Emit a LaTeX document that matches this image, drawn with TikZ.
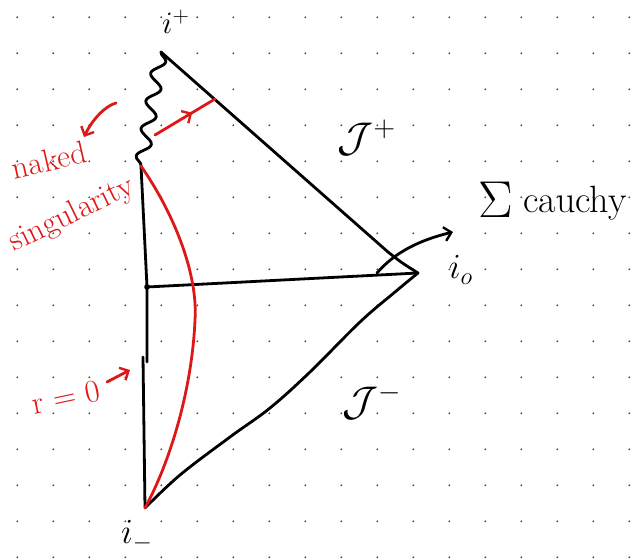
\documentclass[tikz,border=0pt]{standalone}
\usetikzlibrary{arrows.meta,decorations.pathmorphing,decorations.markings}
\definecolor{penred}{RGB}{222,24,24}
\begin{document}
\begin{tikzpicture}[x=1pt,y=-1pt, line cap=round, line join=round,
  ink/.style={line width=2.8pt, black},
  redink/.style={line width=2.8pt, penred},
  barb/.style={-{Straight Barb[length=7pt,width=14pt,line width=2.4pt]}},
  lbl/.style={inner sep=0pt, font=\fontsize{32}{32}\selectfont},
  mlbl/.style={inner sep=0pt, font=\fontsize{20}{20}\selectfont, scale=#1},
  redlbl/.style={lbl, text=penred}]
\fill[white] (0,0) rectangle (635,559);
\useasboundingbox (0,0) rectangle (635,559);
\foreach \i in {0,...,17} \foreach \j in {0,...,15} \fill[black!65] (17.3+36*\i, 17.3+36*\j) circle (1.1);

\coordinate (ip) at (161,52);
\coordinate (ns) at (141,166);
\coordinate (io) at (418,273);
\coordinate (im) at (145,508);
\coordinate (mid) at (147,287);
\coordinate (brk1) at (147,362);
\coordinate (brk2) at (143,357);

% singular boundary (wavy)
\draw[ink, decorate, decoration={snake, amplitude=6.5, segment length=28}] (ip) -- (ns);
% J+
\draw[ink] (ip) -- (388,252) .. controls (402,263) .. (io);
% J-
\draw[ink] plot[smooth, tension=0.6] coordinates {(im) (180,475) (230,437) (270,408) (310,372) (360,322) (395,292) (io)};
% r = 0 axis
\draw[ink] (ns) -- (mid) -- (brk1);
\draw[ink] (brk2) -- (im);
% Cauchy surface
\draw[ink] (mid) -- (io);
\fill (mid) circle (2.8);
\draw[ink, barb] (377,273) .. controls (395,252) and (420,240) .. (453,232);

% red curve
\draw[redink] (ns) .. controls (175,215) and (198,275) .. (195,320) .. controls (192,390) and (170,462) .. (im);
% red arrow to J+
\draw[redink, postaction=decorate, decoration={markings, mark=at position 0.62 with {\arrow{Straight Barb[length=7pt,width=14pt,line width=2.4pt]}}}] (155,135) -- (215,99);
% red pointer arrows
\draw[redink, barb] (116,103) .. controls (105,106) and (92,120) .. (84,137);
\draw[redink, barb] (107,382) -- (130,370);

% labels
\node[mlbl=1.5] (lip) at (176,22) {$i^{+}$};
\node[mlbl=2] (ljp) at (367,138) {$\mathcal{J}^{+}$};
\node[mlbl=2] (ljm) at (372,402) {$\mathcal{J}^{-}$};
\node[mlbl=1.7] (lio) at (461,270) {$i_{o}$};
\node[mlbl=1.7] (lim) at (137,536) {$i_{-}$};
\node[mlbl=2.5] (lsig) at (496,200) {$\Sigma$};
\node[lbl, font=\fontsize{38}{38}\selectfont, anchor=base west] (lcau) at (523,213) {cauchy};
\node[redlbl, rotate=13] (lnaked) at (49,160) {naked};
\node[redlbl, rotate=26] (lsing) at (72,215) {singularity};
\node[redlbl, rotate=12] (lr) at (66,397) {r = 0};
\end{tikzpicture}
\end{document}
